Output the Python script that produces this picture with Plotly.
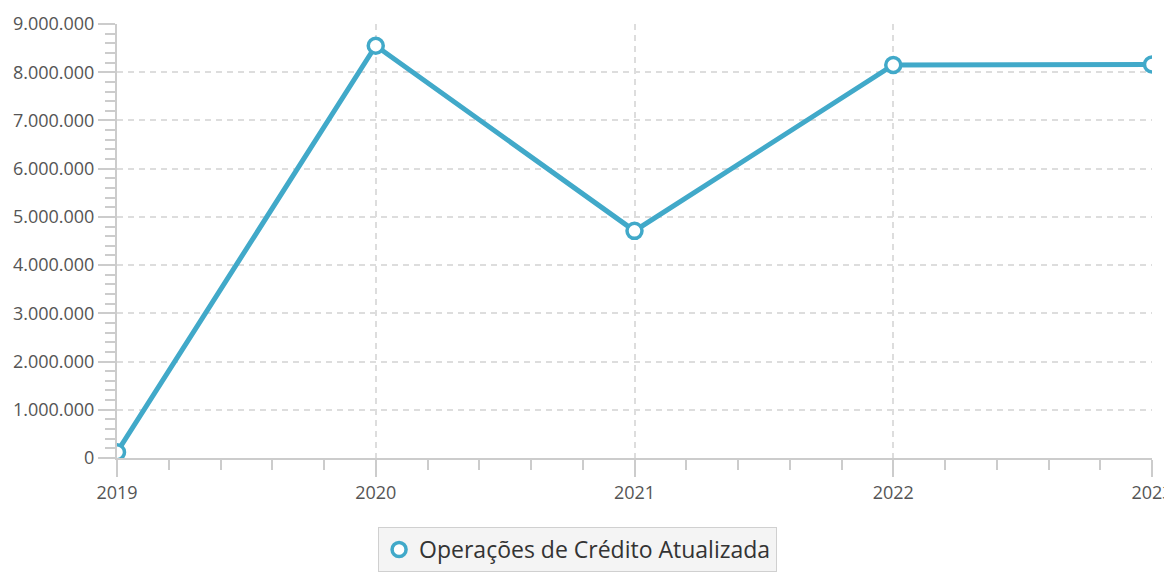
import plotly.graph_objects as go

# Operações de Crédito Atualizada por ano
anos = [2019, 2020, 2021, 2022, 2023]
valores = [120000, 8550000, 4710000, 8150000, 8160000]
serie_nome = "Operações de Crédito Atualizada"

cor_linha = "#41a9c9"
fonte = "Open Sans, Noto Sans, sans-serif"

fig = go.Figure()

fig.add_trace(go.Scatter(
    x=anos, y=valores,
    mode="lines+markers",
    name=serie_nome,
    line=dict(color=cor_linha, width=5),
    marker=dict(size=15, color="white", symbol="circle",
                line=dict(color=cor_linha, width=3.5)),
    showlegend=False,
))

# legend entry: just the open circle
fig.add_trace(go.Scatter(
    x=[None], y=[None],
    mode="markers",
    name=serie_nome,
    marker=dict(size=14, color="white", symbol="circle",
                line=dict(color=cor_linha, width=3.5)),
))

# page body adds an 8px offset, so the figure is a bit smaller than the window
fig.update_layout(
    width=1164, height=565,
    margin=dict(l=109, r=20, t=16, b=115, autoexpand=False),
    plot_bgcolor="white",
    paper_bgcolor="white",
    separators=",.",
    font=dict(family=fonte, size=19, color="#555555"),
    legend=dict(
        orientation="h",
        x=0.445, xanchor="center",
        y=-0.159, yanchor="top",
        bgcolor="#f4f4f4",
        bordercolor="#d0d0d0",
        borderwidth=1,
        font=dict(size=23, color="#333333"),
    ),
    hovermode=False,
)

fig.update_xaxes(
    range=[2019, 2023],
    automargin=False,
    tickmode="linear", tick0=2019, dtick=1,
    tickformat="d",
    ticklabeloverflow="allow",
    showline=True, linecolor="#cccccc", linewidth=2,
    ticks="outside", ticklen=17, tickwidth=2, tickcolor="#cccccc",
    showgrid=True, gridcolor="#dddddd", gridwidth=1.5, griddash="6px,5px",
    zeroline=False,
    minor=dict(dtick=0.2, ticks="outside", ticklen=10, tickwidth=2,
               tickcolor="#cccccc", showgrid=False),
    tickfont=dict(size=18, color="#555555"),
)

fig.update_yaxes(
    range=[0, 9000000],
    automargin=False,
    tickmode="linear", tick0=0, dtick=1000000,
    tickformat=",d",
    showline=True, linecolor="#cccccc", linewidth=2,
    ticks="outside", ticklen=17, tickwidth=2, tickcolor="#cccccc",
    showgrid=True, gridcolor="#dddddd", gridwidth=1.5, griddash="6px,5px",
    zeroline=False,
    minor=dict(dtick=200000, ticks="outside", ticklen=10, tickwidth=2,
               tickcolor="#cccccc", showgrid=False),
    tickfont=dict(size=18, color="#555555"),
)

fig.write_html("out.html")
